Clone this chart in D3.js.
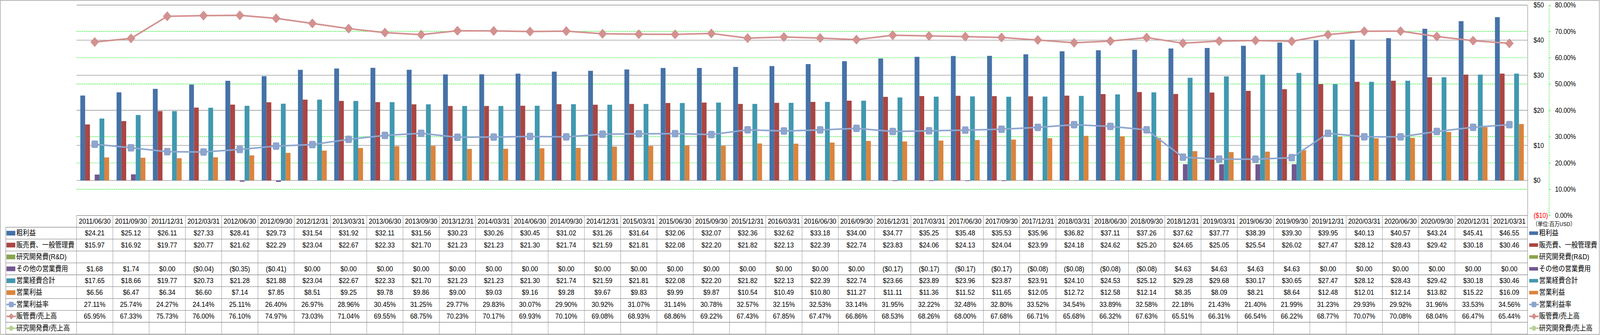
<!DOCTYPE html>
<html>
<head>
<meta charset="utf-8">
<script src="https://cdn.jsdelivr.net/npm/d3@7/dist/d3.min.js"></script>
<style>
  html, body { margin: 0; padding: 0; background: #fff; overflow: hidden; }
  #chart { display: block; width: 100vw; height: 100vh; }
  text { font-family: "Liberation Sans", "Noto Sans CJK JP", sans-serif; fill: #000; }
</style>
</head>
<body>
<svg id="chart" viewBox="0 0 4701 858" preserveAspectRatio="none"></svg>
<script>
// 四半期データ (単位: 百万USD)
var dates = ["2011/06/30","2011/09/30","2011/12/31","2012/03/31","2012/06/30","2012/09/30","2012/12/31","2013/03/31",
  "2013/06/30","2013/09/30","2013/12/31","2014/03/31","2014/06/30","2014/09/30","2014/12/31","2015/03/31",
  "2015/06/30","2015/09/30","2015/12/31","2016/03/31","2016/06/30","2016/09/30","2016/12/31","2017/03/31",
  "2017/06/30","2017/09/30","2017/12/31","2018/03/31","2018/06/30","2018/09/30","2018/12/31","2019/03/31",
  "2019/06/30","2019/09/30","2019/12/31","2020/03/31","2020/06/30","2020/09/30","2020/12/31","2021/03/31"];

var grossProfit = [24.21,25.12,26.11,27.33,28.41,29.73,31.54,31.92,32.11,31.56,30.23,30.26,30.45,31.02,31.26,31.64,
  32.06,32.07,32.36,32.62,33.18,34.00,34.77,35.25,35.48,35.53,35.96,36.82,37.11,37.26,37.62,37.77,38.39,39.30,39.95,
  40.13,40.57,43.24,45.41,46.55];
var sgaExpense = [15.97,16.92,19.77,20.77,21.62,22.29,23.04,22.67,22.33,21.70,21.23,21.23,21.30,21.74,21.59,21.81,
  22.08,22.20,21.82,22.13,22.39,22.74,23.83,24.06,24.13,24.04,23.99,24.18,24.62,25.20,24.65,25.05,25.54,26.02,27.47,
  28.12,28.43,29.42,30.18,30.46];
var rdExpense = [];   // データなし
var otherExpense = [1.68,1.74,0.00,-0.04,-0.35,-0.41,0.00,0.00,0.00,0.00,0.00,0.00,0.00,0.00,0.00,0.00,
  0.00,0.00,0.00,0.00,0.00,0.00,-0.17,-0.17,-0.17,-0.17,-0.08,-0.08,-0.08,-0.08,4.63,4.63,4.63,4.63,0.00,
  0.00,0.00,0.00,0.00,0.00];
var totalOpex = [17.65,18.66,19.77,20.73,21.28,21.88,23.04,22.67,22.33,21.70,21.23,21.23,21.30,21.74,21.59,21.81,
  22.08,22.20,21.82,22.13,22.39,22.74,23.66,23.89,23.96,23.87,23.91,24.10,24.53,25.12,29.28,29.68,30.17,30.65,27.47,
  28.12,28.43,29.42,30.18,30.46];
var operatingIncome = [6.56,6.47,6.34,6.60,7.14,7.85,8.51,9.25,9.78,9.86,9.00,9.03,9.16,9.28,9.67,9.83,
  9.99,9.87,10.54,10.49,10.80,11.27,11.11,11.36,11.52,11.65,12.05,12.72,12.58,12.14,8.35,8.09,8.21,8.64,12.48,
  12.01,12.14,13.82,15.22,16.09];
var operatingMargin = [27.11,25.74,24.27,24.14,25.11,26.40,26.97,28.96,30.45,31.25,29.77,29.83,30.07,29.90,30.92,31.07,
  31.14,30.78,32.57,32.15,32.53,33.14,31.95,32.22,32.48,32.80,33.52,34.54,33.89,32.58,22.18,21.43,21.40,21.99,31.23,
  29.93,29.92,31.96,33.53,34.56];
var sgaRatio = [65.95,67.33,75.73,76.00,76.10,74.97,73.03,71.04,69.55,68.75,70.23,70.17,69.93,70.10,69.08,68.93,
  68.86,69.22,67.43,67.85,67.47,66.86,68.53,68.26,68.00,67.68,66.71,65.68,66.32,67.63,65.51,66.31,66.54,66.22,68.77,
  70.07,70.08,68.04,66.47,65.44];
var rdRatio = [];     // データなし

var dollarTicks = [-10, 0, 10, 20, 30, 40, 50];
var percentTicks = [0, 0.1, 0.2, 0.3, 0.4, 0.5, 0.6, 0.7, 0.8];

var barSeries = [
  { name: "粗利益", values: grossProfit, color: "#4572a7" },
  { name: "販売費、一般管理費", values: sgaExpense, color: "#aa4643" },
  { name: "研究開発費(R&D)", values: rdExpense, color: "#89a54e" },
  { name: "その他の営業費用", values: otherExpense, color: "#71588f" },
  { name: "営業経費合計", values: totalOpex, color: "#4198af" },
  { name: "営業利益", values: operatingIncome, color: "#db843d" }
];
var lineSeries = [
  { name: "営業利益率", values: operatingMargin, color: "#8ea6cf", marker: "square" },
  { name: "販管費/売上高", values: sgaRatio, color: "#d3918f", marker: "diamond" },
  { name: "研究開発費/売上高", values: rdRatio, color: "#b9cf96", marker: "circle" }
];

var plot = { left: 225, right: 4488, top: 13, bottom: 552 };
var table = { labelLeft: 17, headerTop: 552, headerH: 30, rowH: 30.44 };

var svg = d3.select("#chart");

var x0 = d3.scaleBand().domain(dates).range([plot.left, plot.right]);
var x1 = d3.scaleBand().domain(barSeries.map(function (s) { return s.name; }))
  .range([11, x0.bandwidth() - 11]);
var yL = d3.scaleLinear().domain([-10, 50]).range([plot.bottom, plot.top]);
var yR = d3.scaleLinear().domain([0, 0.8]).range([plot.bottom, plot.top]);

function val(arr, i) { var v = arr[i]; return (v === undefined || v === null) ? null : v; }
function money(v) { return v < 0 ? "($" + (-v).toFixed(2) + ")" : "$" + v.toFixed(2); }
function pct(v) { return v.toFixed(2) + "%"; }

// 外枠
svg.append("rect").attr("x", 1).attr("y", 1).attr("width", 4698).attr("height", 855.5)
  .attr("fill", "none").attr("stroke", "#8c8c8c").attr("stroke-width", 1.3);

// グリッド線
var grid = svg.append("g");
grid.selectAll("line.pg").data(percentTicks.filter(function (t) { return t > 0 && t < 0.8; }))
  .enter().append("line")
  .attr("x1", plot.left).attr("x2", plot.right)
  .attr("y1", function (d) { return yR(d); }).attr("y2", function (d) { return yR(d); })
  .attr("stroke", "#00e600").attr("stroke-width", 1.2).attr("stroke-dasharray", "3.5,2");
grid.selectAll("line.dg").data(dollarTicks.filter(function (t) { return t > -10; }))
  .enter().append("line")
  .attr("x1", plot.left).attr("x2", plot.right)
  .attr("y1", function (d) { return yL(d); }).attr("y2", function (d) { return yL(d); })
  .attr("stroke", "#8c8c8c").attr("stroke-width", 1.3);

// 棒グラフ
barSeries.forEach(function (s) {
  var pts = dates.map(function (d, i) { return { d: d, v: val(s.values, i) }; })
    .filter(function (p) { return p.v !== null && p.v !== 0; });
  svg.append("g").selectAll("rect").data(pts).enter().append("rect")
    .attr("x", function (p) { return x0(p.d) + x1(s.name); })
    .attr("width", x1.bandwidth())
    .attr("y", function (p) { return Math.min(yL(p.v), yL(0)); })
    .attr("height", function (p) { return Math.abs(yL(p.v) - yL(0)); })
    .attr("fill", s.color);
});

// 折れ線
var cx = function (d) { return x0(d) + x0.bandwidth() / 2; };
function drawMarker(g, type, color, size) {
  if (type === "square") {
    g.append("rect").attr("x", -size / 2).attr("y", -size / 2).attr("width", size).attr("height", size)
      .attr("rx", size / 6).attr("fill", color).attr("stroke", d3.color(color).darker(0.2)).attr("stroke-width", 1);
  } else if (type === "diamond") {
    var h = size / 2;
    g.append("path").attr("d", "M0," + (-h) + "L" + h + ",0L0," + h + "L" + (-h) + ",0Z")
      .attr("fill", color).attr("stroke", d3.color(color).darker(0.2)).attr("stroke-width", 1);
  } else {
    g.append("circle").attr("r", size / 2).attr("fill", color);
  }
}
lineSeries.forEach(function (s) {
  var pts = dates.map(function (d, i) { return { d: d, v: val(s.values, i) }; })
    .filter(function (p) { return p.v !== null; });
  if (!pts.length) return;
  var line = d3.line().x(function (p) { return cx(p.d); }).y(function (p) { return yR(p.v / 100); });
  svg.append("path").datum(pts).attr("d", line).attr("fill", "none")
    .attr("stroke", s.color).attr("stroke-width", 4).attr("stroke-linejoin", "round");
  var size = s.marker === "diamond" ? 24 : 18;
  pts.forEach(function (p) {
    var g = svg.append("g").attr("transform", "translate(" + cx(p.d) + "," + yR(p.v / 100) + ")");
    drawMarker(g, s.marker, s.color, size);
  });
});

// 右側の軸 ($)
var axisL = svg.append("g").attr("transform", "translate(" + plot.right + ",0)")
  .call(d3.axisRight(yL).tickValues(dollarTicks).tickSize(0).tickPadding(18)
    .tickFormat(function (d) { return d < 0 ? "($" + (-d) + ")" : "$" + d; }));
axisL.select(".domain").attr("stroke", "#8c8c8c").attr("stroke-width", 1.3);
axisL.selectAll("text").style("font-size", "18px").style("fill", function (d) { return d < 0 ? "#ff0000" : "#000"; })
  .attr("font-family", null);

// 右側の軸 (%)
var axisR = svg.append("g").attr("transform", "translate(4551,0)")
  .call(d3.axisRight(yR).tickValues(percentTicks).tickSize(5).tickPadding(13).tickFormat(d3.format(".2%")));
axisR.select(".domain").attr("stroke", "#00e600").attr("stroke-width", 1.2).attr("stroke-dasharray", "3.5,2");
axisR.selectAll(".tick line").attr("stroke", "#00e600").attr("stroke-width", 1.2);
axisR.selectAll("text").style("font-size", "18px").attr("font-family", null);

svg.append("text").attr("x", 4503).attr("y", 575).attr("dominant-baseline", "middle")
  .style("font-size", "15px").text("（単位:百万USD）");

// データテーブル
var rows = barSeries.map(function (s) { return { s: s, kind: "bar", fmt: money }; })
  .concat(lineSeries.map(function (s) { return { s: s, kind: "line", fmt: pct }; }));
var tbl = svg.append("g");
var rowTop = function (r) { return table.headerTop + table.headerH + r * table.rowH; };
var tableBottom = rowTop(rows.length);

// 横線
tbl.append("line").attr("x1", plot.left).attr("x2", plot.right).attr("y1", table.headerTop).attr("y2", table.headerTop)
  .attr("stroke", "#8c8c8c").attr("stroke-width", 1.3);
d3.range(rows.length + 1).forEach(function (r) {
  tbl.append("line").attr("x1", table.labelLeft).attr("x2", plot.right)
    .attr("y1", rowTop(r)).attr("y2", rowTop(r)).attr("stroke", "#8c8c8c").attr("stroke-width", 1.3);
});
// 縦線
tbl.append("line").attr("x1", table.labelLeft).attr("x2", table.labelLeft)
  .attr("y1", rowTop(0)).attr("y2", tableBottom).attr("stroke", "#8c8c8c").attr("stroke-width", 1.3);
dates.forEach(function (d) {
  tbl.append("line").attr("x1", x0(d)).attr("x2", x0(d)).attr("y1", table.headerTop).attr("y2", tableBottom)
    .attr("stroke", "#8c8c8c").attr("stroke-width", 1);
});
tbl.append("line").attr("x1", plot.right).attr("x2", plot.right).attr("y1", table.headerTop).attr("y2", tableBottom)
  .attr("stroke", "#8c8c8c").attr("stroke-width", 1.3);

// 日付ヘッダー
tbl.selectAll("text.hd").data(dates).enter().append("text")
  .attr("x", function (d) { return cx(d); }).attr("y", table.headerTop + table.headerH / 2 + 1)
  .attr("text-anchor", "middle").attr("dominant-baseline", "middle").style("font-size", "19px")
  .text(function (d) { return d; });

function drawKey(g, row, x, y, barH) {
  if (row.kind === "bar") {
    g.append("rect").attr("x", x).attr("y", y - barH / 2).attr("width", 26).attr("height", barH).attr("fill", row.s.color);
  } else {
    g.append("line").attr("x1", x).attr("x2", x + 28).attr("y1", y).attr("y2", y)
      .attr("stroke", row.s.color).attr("stroke-width", 4);
    var m = g.append("g").attr("transform", "translate(" + (x + 14) + "," + y + ")");
    drawMarker(m, row.s.marker, row.s.color, row.s.marker === "diamond" ? 15 : 13);
  }
}

rows.forEach(function (row, r) {
  var yc = rowTop(r) + table.rowH / 2;
  drawKey(tbl, row, 19, yc, 12);
  tbl.append("text").attr("x", 48).attr("y", yc + 1).attr("dominant-baseline", "middle")
    .style("font-size", "19px").text(row.s.name);
  dates.forEach(function (d, i) {
    var v = val(row.s.values, i);
    if (v === null) return;
    tbl.append("text").attr("x", cx(d)).attr("y", yc + 1).attr("text-anchor", "middle")
      .attr("dominant-baseline", "middle").style("font-size", "19px").text(row.fmt(v));
  });
  // 凡例
  drawKey(svg, row, 4493, yc, 9);
  svg.append("text").attr("x", 4522).attr("y", yc + 1).attr("dominant-baseline", "middle")
    .style("font-size", "19px").text(row.s.name);
});
</script>
</body>
</html>
